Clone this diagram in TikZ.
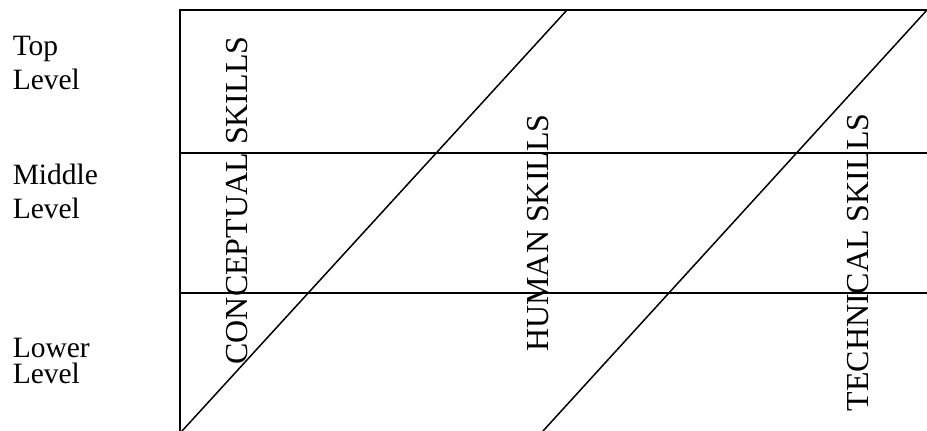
\documentclass[tikz,border=0pt]{standalone}
\usepackage{fontspec}
\setmainfont{Liberation Serif}

\begin{document}
\begin{tikzpicture}[x=1pt, y=-1pt, line width=1.5pt,
  level/.style={anchor=north west, inner sep=0pt, align=left, font=\fontsize{29.5}{34}\selectfont},
  skill/.style={rotate=90, anchor=base, inner sep=0pt, font=\fontsize{32}{36}\selectfont}]
\useasboundingbox (0,0) rectangle (927,431);
% --- Frame ---
\coordinate (tl) at (180,10);
\coordinate (tr) at (927,10);
\coordinate (bl) at (180,431);
\coordinate (ml) at (180,153);
\coordinate (mr) at (927,153);
\coordinate (ll) at (180,293);
\coordinate (lr) at (927,293);
% --- Diagonal ends ---
\coordinate (c1) at (182,431);
\coordinate (c2) at (567,10);
\coordinate (h1) at (543,431);
%
% --- Lines ---
\draw (bl)--(tl)--(tr);
\draw (ml)--(mr); % top / middle
\draw (ll)--(lr); % middle / lower
\draw (c1)--(c2);
\draw (h1)--(tr);
%
% --- Level labels ---
\node[level] (top) at (12,35) {Top\\Level};
\node[level] (middle) at (12,163.3) {Middle\\Level};
\node[level, font=\fontsize{29.5}{26}\selectfont] (lower) at (12,337.3) {Lower\\Level};
%
% --- Skill labels ---
\node[skill] (concept) at (247,200.5) {CONCEPTUAL SKILLS};
\node[skill] (human) at (548,233) {HUMAN SKILLS};
\node[skill] (tech) at (868,262.5) {TECHNICAL SKILLS};
%
\end{tikzpicture}
\end{document}
